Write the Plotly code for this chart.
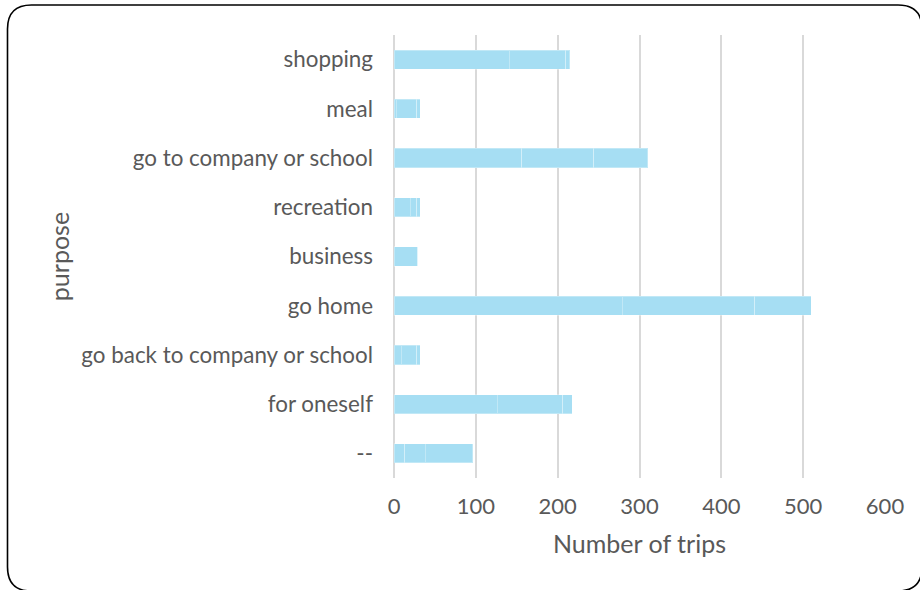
import plotly.graph_objects as go

# Trip purposes, listed top to bottom
purposes = [
    "shopping",
    "meal",
    "go to company or school",
    "recreation",
    "business",
    "go home",
    "go back to company or school",
    "for oneself",
    "--",
]

# Number of trips per purpose, split into stacked segments
seg_a = [141, 3, 156, 20, 29, 279, 9, 126, 13]
seg_b = [69, 25, 88, 8, 0, 162, 19, 80, 25]
seg_c = [5, 4, 66, 4, 0, 69, 4, 12, 58]

x_ticks = [0, 100, 200, 300, 400, 500, 600]

BAR = "#A6DEF3"
EDGE = "rgba(255,255,255,0.3)"
TEXT = "#595959"
GRID = "#D9D9D9"
FONT = "Lato, 'Open Sans', sans-serif"

W, H = 920, 590
ML, MR, MT, MB = 394, 35, 35, 112

fig = go.Figure()
for name, vals in (("A", seg_a), ("B", seg_b), ("C", seg_c)):
    fig.add_trace(go.Bar(
        y=purposes, x=vals, orientation="h", name=name,
        marker=dict(color=BAR, line=dict(color=EDGE, width=1)),
        showlegend=False, hoverinfo="x+y",
    ))

# Rounded frame around the whole chart, expressed in paper units
pw, ph = W - ML - MR, H - MT - MB


def px(x):
    return (x - ML) / pw


def py(y):
    return (H - MB - y) / ph


x0, x1, y0, y1, r = 7.5, 922, 5, 591, 24
frame = (
    f"M {px(x0 + r)},{py(y0)} L {px(x1 - r)},{py(y0)} "
    f"Q {px(x1)},{py(y0)} {px(x1)},{py(y0 + r)} "
    f"L {px(x1)},{py(y1 - r)} Q {px(x1)},{py(y1)} {px(x1 - r)},{py(y1)} "
    f"L {px(x0 + r)},{py(y1)} Q {px(x0)},{py(y1)} {px(x0)},{py(y1 - r)} "
    f"L {px(x0)},{py(y0 + r)} Q {px(x0)},{py(y0)} {px(x0 + r)},{py(y0)} Z"
)

fig.update_layout(
    width=W, height=H,
    barmode="stack", bargap=0.61,
    paper_bgcolor="white", plot_bgcolor="white",
    margin=dict(l=ML, r=MR, t=MT, b=MB),
    font=dict(family=FONT, color=TEXT, size=22),
    shapes=[dict(type="path", xref="paper", yref="paper", path=frame,
                 line=dict(color="black", width=1.6), layer="above")],
    xaxis=dict(
        range=[0, 600], tickvals=x_ticks, ticktext=[str(v) for v in x_ticks],
        showgrid=True, gridcolor=GRID, gridwidth=1.7,
        zeroline=True, zerolinecolor=GRID, zerolinewidth=1.7,
        showline=False, ticks="", ticklabelstandoff=13,
        tickfont=dict(size=22, color=TEXT),
        title=dict(text="Number of trips", font=dict(size=25, color=TEXT),
                   standoff=17),
        fixedrange=True,
    ),
    yaxis=dict(
        categoryorder="array", categoryarray=purposes, autorange="reversed",
        showgrid=False, showline=False, ticks="", ticklabelstandoff=20,
        tickfont=dict(size=22.4, color=TEXT),
        title=dict(text="purpose", font=dict(size=25, color=TEXT),
                   standoff=4),
        fixedrange=True,
    ),
)

fig.write_html("out.html")
